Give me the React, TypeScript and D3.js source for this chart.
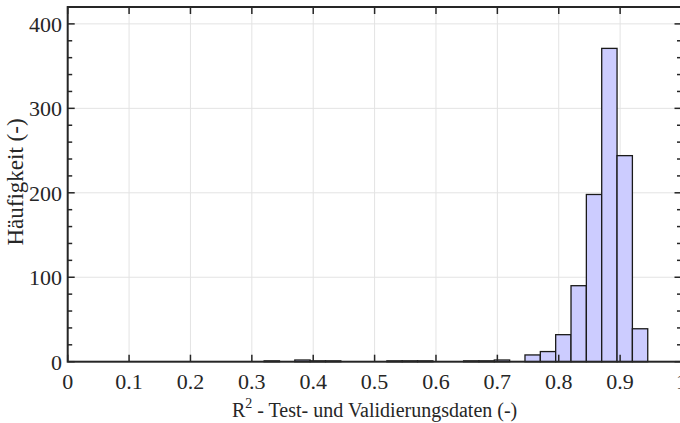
import React from "react";
import * as d3 from "d3";

const binStart = 0.32;
const binWidth = 0.025;
const counts = [1, 0, 2, 1, 1, 0, 0, 0, 1, 1, 1, 0, 0, 1, 1, 2, 0, 8, 12, 32, 90, 198, 371, 244, 39];
const xTicks = [0, 0.1, 0.2, 0.3, 0.4, 0.5, 0.6, 0.7, 0.8, 0.9, 1];
const yTicks = [0, 100, 200, 300, 400];
const yMinor = d3.range(0, 421, 20);

const W = 680, H = 423;
const L = 67.7, R = 681.5, T = 7, B = 361.7;

export default function App() {
  const x = d3.scaleLinear().domain([0, 1]).range([L, R]);
  const y = d3.scaleLinear().domain([0, 420]).range([B, T]);
  const font = "Liberation Serif, DejaVu Serif, serif";
  const axisColor = "#262626";
  const tickStyle = { fontFamily: font, fontSize: "22px" };
  return (
    <svg width={W} height={H} style={{ position: "absolute", left: 0, top: 0, background: "#fff", fontFamily: font }}>
      <rect x={0} y={0} width={W} height={H} fill="#fff" />
      {/* grid */}
      {xTicks.map((t) => (
        <line key={"gx" + t} x1={x(t)} x2={x(t)} y1={T} y2={B} stroke="#e3e3e3" strokeWidth={1} />
      ))}
      {yTicks.map((t) => (
        <line key={"gy" + t} x1={L} x2={R} y1={y(t)} y2={y(t)} stroke="#e3e3e3" strokeWidth={1} />
      ))}
      {/* bars */}
      {counts.map((c, i) =>
        c > 0 ? (
          <rect
            key={"b" + i}
            x={x(binStart + i * binWidth)}
            y={y(c)}
            width={x(binStart + (i + 1) * binWidth) - x(binStart + i * binWidth)}
            height={y(0) - y(c)}
            fill="#ccccff"
            stroke="#1a1a1a"
            strokeWidth={1.3}
          />
        ) : null
      )}
      {/* ticks */}
      {xTicks.map((t) => (
        <g key={"tx" + t}>
          <line x1={x(t)} x2={x(t)} y1={B} y2={B - 7} stroke={axisColor} strokeWidth={1.5} />
          <line x1={x(t)} x2={x(t)} y1={T} y2={T + 7} stroke={axisColor} strokeWidth={1.5} />
          <text x={x(t)} y={389} textAnchor="middle" fill="#262626" style={tickStyle}>
            {String(t)}
          </text>
        </g>
      ))}
      {yMinor.map((t) => {
        const major = t % 100 === 0;
        const len = major ? 7 : 4.5;
        return (
          <g key={"ty" + t}>
            <line x1={L} x2={L + len} y1={y(t)} y2={y(t)} stroke={axisColor} strokeWidth={1.5} />
            <line x1={R} x2={R - len} y1={y(t)} y2={y(t)} stroke={axisColor} strokeWidth={1.5} />
          </g>
        );
      })}
      {yTicks.map((t) => (
        <text key={"yl" + t} x={62} y={y(t) + 8} textAnchor="end" fill="#262626" style={tickStyle}>
          {String(t)}
        </text>
      ))}
      {/* frame */}
      <rect x={L} y={T} width={R - L} height={B - T} fill="none" stroke={axisColor} strokeWidth={2} />
      {/* labels */}
      <text x={(L + R) / 2} y={417} textAnchor="middle" fill="#262626" style={{ fontFamily: font, fontSize: "20px" }}>
        <tspan>R</tspan>
        <tspan dy={-9} style={{ fontSize: "14px" }}>2</tspan>
        <tspan dy={9}> - Test- und Validierungsdaten (-)</tspan>
      </text>
      <text transform={`translate(23, 182) rotate(-90)`} textAnchor="middle" fill="#262626" style={{ fontFamily: font, fontSize: "23px" }}>
        Häufigkeit (-)
      </text>
    </svg>
  );
}
